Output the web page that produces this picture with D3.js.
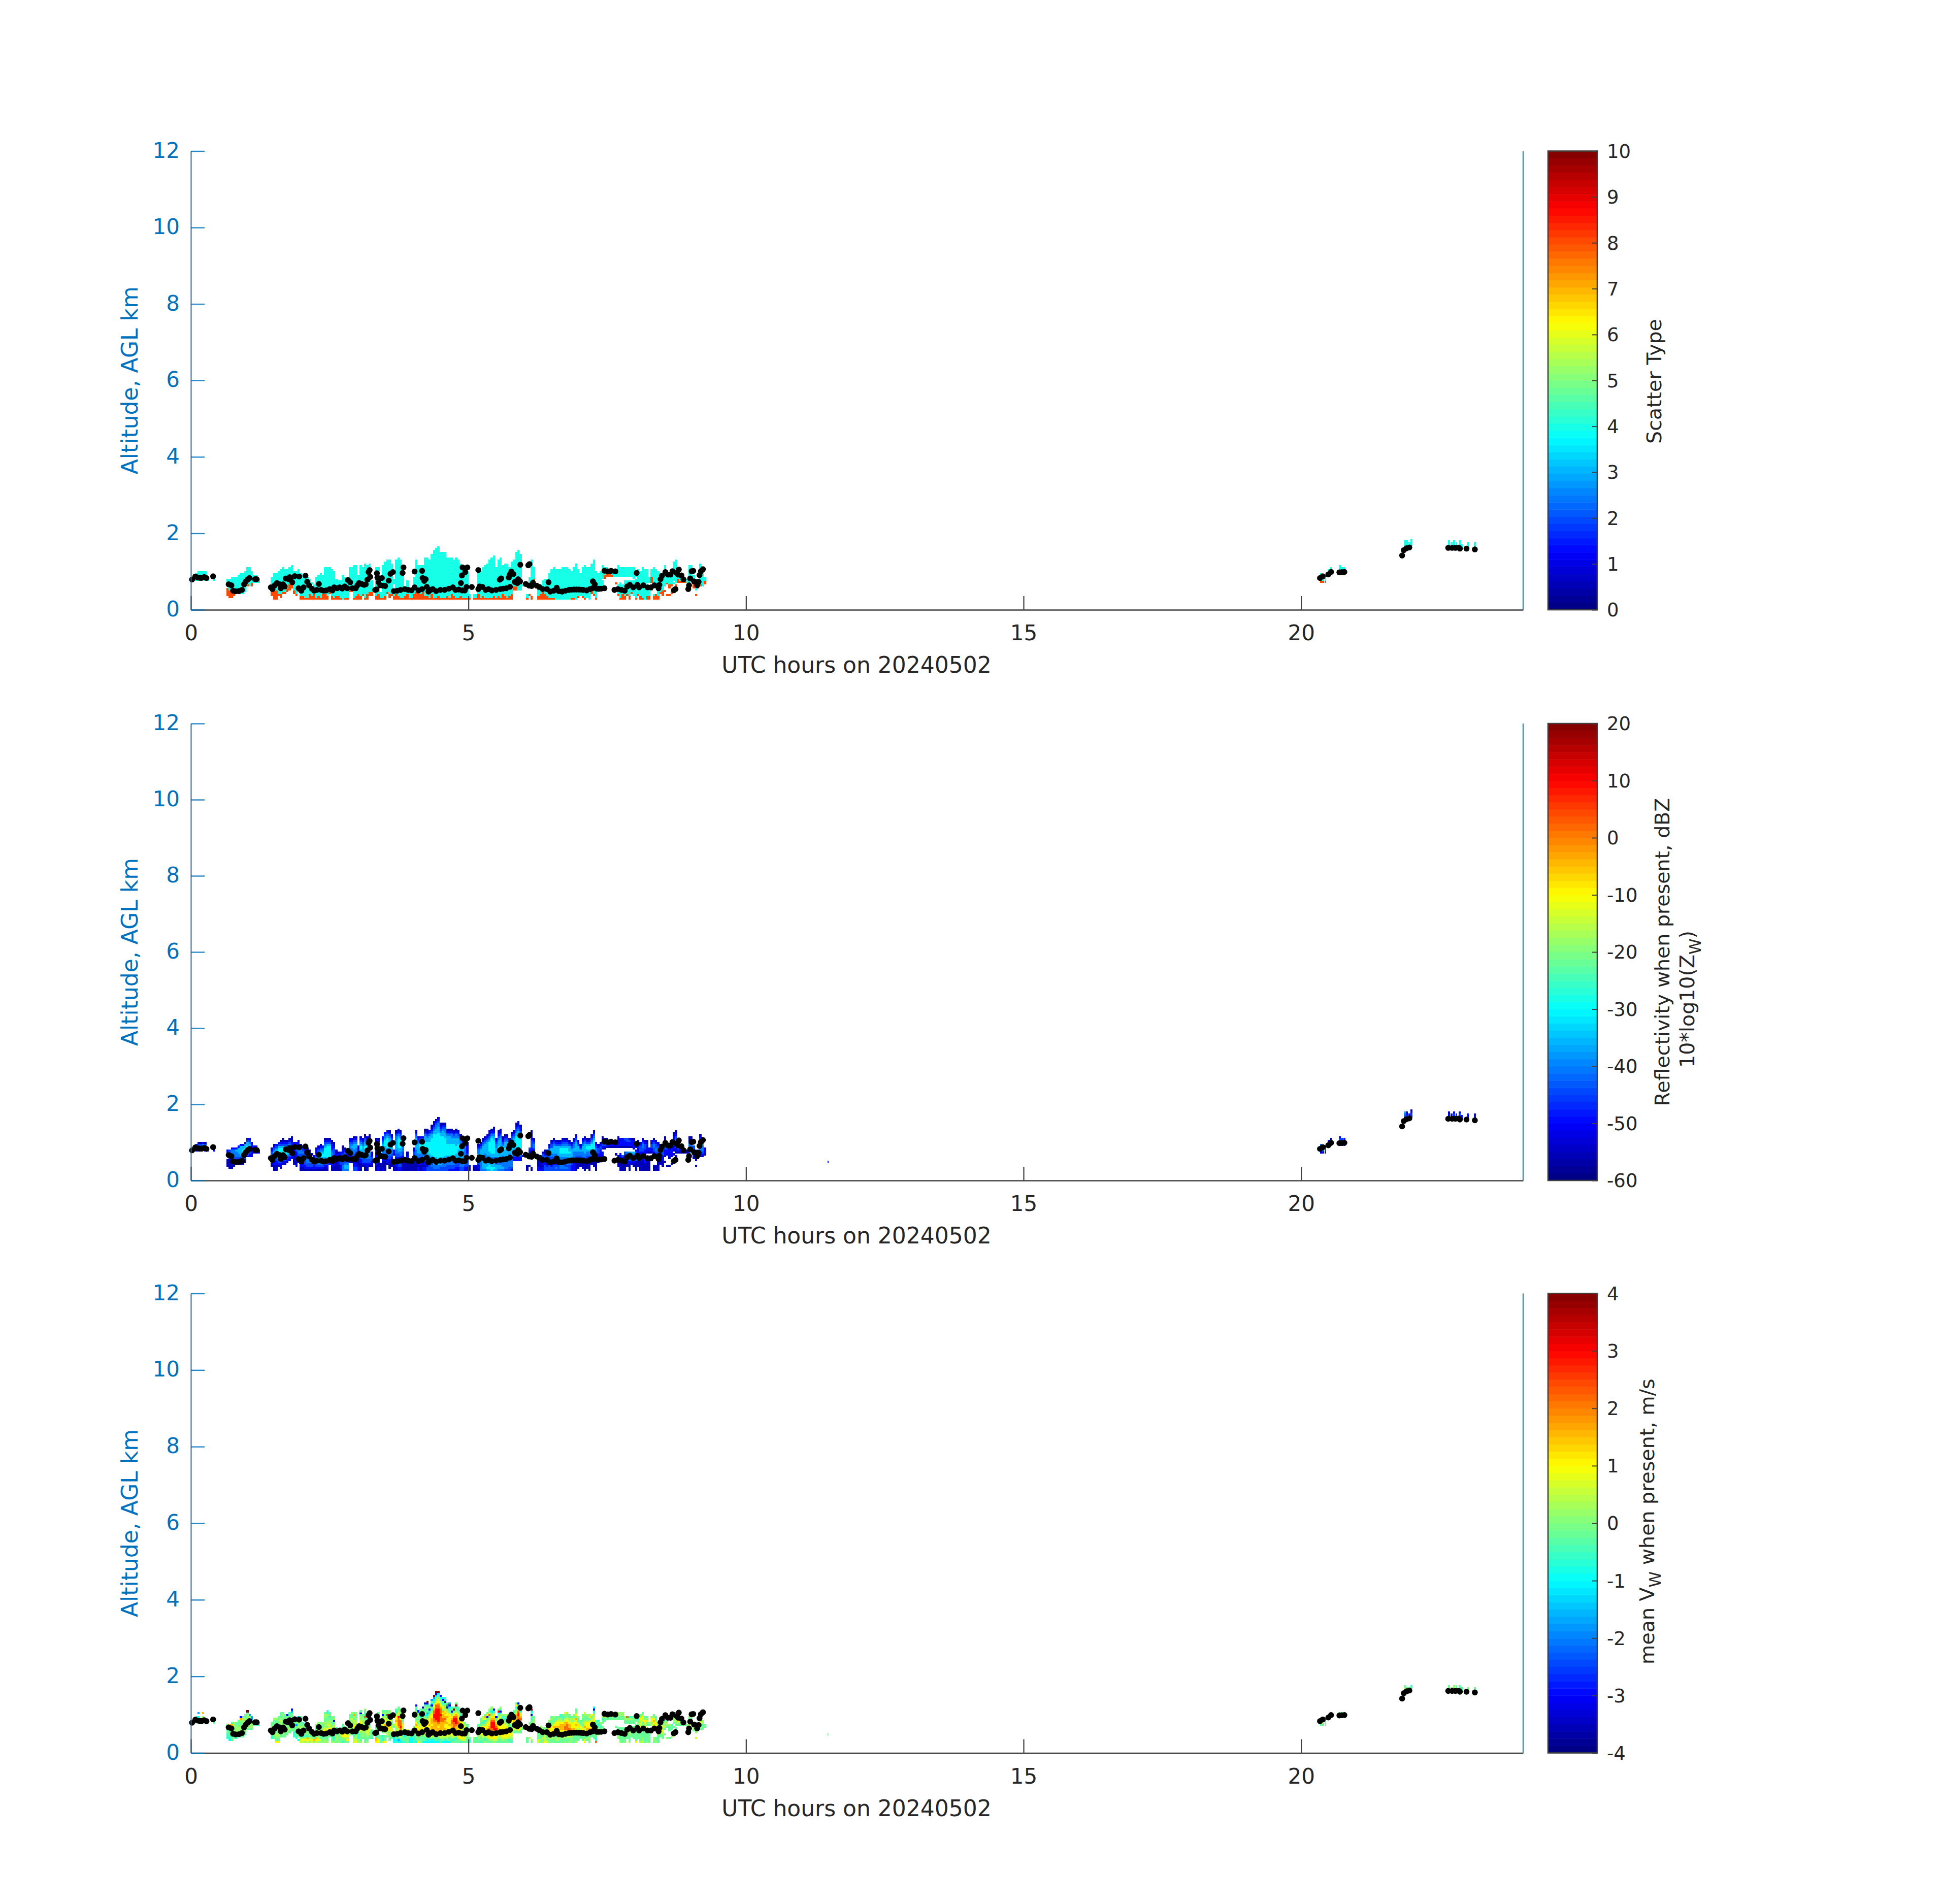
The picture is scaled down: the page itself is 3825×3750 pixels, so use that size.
<!DOCTYPE html>
<html><head><meta charset="utf-8">
<style>html,body{margin:0;padding:0;background:#fff}text{font-family:"DejaVu Sans",sans-serif}</style>
<script src="https://cdn.jsdelivr.net/npm/d3@7"></script></head><body>
<script>
// ---- data ----
const xTicks=[0,5,10,15,20];
const yTicks=[0,2,4,6,8,10,12];
const xLabel="UTC hours on 20240502";
const yLabel="Altitude, AGL km";
const scatterTicks=[0,1,2,3,4,5,6,7,8,9,10];
const dbzTicks=[-60,-50,-40,-30,-20,-10,0,10,20];
const velTicks=[-4,-3,-2,-1,0,1,2,3,4];
const gateFloorKm=0.265, gateKm=0.05, stepHours=0.04;
// one string per time column (0.04 h apart), written from the lowest gate upward; '.' = empty gate
const dbzLevels={1:-56,2:-50,3:-45,4:-41,5:-36,6:-31};
const velLevels={K:-3.9,b:-3,a:-1.7,c:-1,t:-0.6,g:-0.2,l:0.2,y:0.6,Y:1,o:1.6,O:2.2,r:2.9,m:3.9};
const scatterLevels={cloud:4.05,drizzle:8.05};
const dbzColumns=["","..........22","..........2332","..........23431","..........23431","...........2342","..........22331","..........22","","",
"..........22","","","","","","..1111..222",".1111122333",".11222334442","..1222344442",
"...122344452","...1223445552","...12234555552","...12234556552","....12334566552",".......2345665532",".......2234555432",".......22222222",".........2332",".........2332",
".........22","","","","","","..1122233321","11122334554321","11122344555432","..1233455666532",
".122344566665321","...12345666653211","...1234566665321","....123456665321",".....223455554321","......223444322111","...111111122222","..1112222233322","....223334443221","11222233344321",
"1122223334321","122334433222","123344333221","12334432221","1233432.1","12233212","123334433221","1234445554321","12344556654321","1234455665432",
"11234556666654321","12234566666665321","...23456666665321","1122233444322211","111222233333211","11111222211","1112212221","1223332222","4443322232211","455433223321",
"45543222211","....1122223444322","....1223344454321","332211233445554321","332211122344554321","2211112222211","111122344556654321","..123344555554321","1112334455666554321","112233445566654321",
"..12334455666543211","..12233211","","11122112223344321","22112112223344321","1111...12","211112233445554322","11111223344556665432","...122334455666665432",".11122334455666554321",
"..11112334455554321","111.....122","112211233445555544321","2233112334556666654321","223312234455666654321","111112223344443211","1111","1111122211","111111","111111",
"111111223321","111122334445555554321","221223344555554321","111223344556665432","221122344556665432","2212233445566665554321","3322334455666665543211","333234455666666555432","334344556666666665543211","34454556666666666665543211",
"344555566666666666655544321","3445556666666666666655544321","3345455666666666665543211","3344455666666666665554321","3344455566666666655544321","3334455566666655554321","2334455566666655554321","2334455666666655544321","233445566666665554321","2233445556666555544321",
"223344555556665554321","3344455555555544321","334444555455443211","2234444444444321","223333333222211","111","","112","111","12233445544321",
"444445555554321","45555544555554321","455555444555554321","5655544455555554321","566544445566666543211","6655444556666666654321","56554445566666665543211","55544445555544321","455444455566655543211","4554444556666555543211",
"454444445555543211","3444444555565554321","3444444555555554321","33444444455554321","23444444555554444321",".....2234455566554321",".....22345566666665543211",".....223455666666665543211",".....2234556666665543221",".......1",
"","111.....1","..1.....1223","11......1222333322211","........122344321","......1","22111222","21111223","2212223331","33322233211",
"33212233211","33321233445321","3322233445553321","33322334455554321","3432233445555321","3333334455555321","3443344556665321","34433445566654321","34333445566654321","34344445566654321",
"3334445556555321","222344455554321","22222344445544321","1111223344555554321",".11122334455 5321".replace(" ",""),"..11123344 5321".replace(" ",""),".1112334445554321","111123344555554321",".11112334456 65321".replace(" ",""),"1111123344 5665321".replace(" ",""),
"...1123344566654321","..1112334456666654321","11111 2233344321".replace(" ",""),"....1222233321",".....1222223321",".....11122.1233211","...........123321","............12321","............1221","............122",
"............121","........1...1221","..111111....122211","111112222...12222","11111223....12222","1111122233..12223","..11122334..12233","1112234445..12232","...1234445..12221","..11234445.122221",
"11111344432.122","..111344 42122321".replace(" ",""),"11111233 2233321".replace(" ",""),"11111132123344321","1111223212233321","1111122..1222211","111112...122",".....1...1223322","111.....123344321","111...1223443321",
"111111123344321","...11122334321","..111222333321","....1..12223332211","..1.....1223332","..1...122221","...1...12222",".....1..1.1223332211",".......1.122333343211",".........1233321",
".........12221",".........122",".........11",".....1...11",".......12334443211","..........23443321","......1223333","..1..122333","......12233",".......123445554321",
".......12344453","........1222"];
const velColumns=["","..........gg","...........glt","...........glc.a","..........gll","...........ggl.o","..........gg","..........g","","",
"..........g","","","","","","..tttggg.g",".cttggtggo",".ggggllggog","..gggllglll",
"..tggglllgg","...tgglllggg","...ggllllgglob","...gglllgllllg","....gglllglllgg",".......glllglllgm",".......glllglla",".......gllggaa",".........ggl",".........gll",
".........tg","","","","","","..ttgggglgg","..gglllglgggl","YggllglllgggL".replace("L","l"),"Ygglllyglgglgg",
"...ggllglllylggg","...glllgllglgglg","...gggllgglllgg","....glllglllggb",".....ggllglllggt","......ggllgglgggab","...tttgggggg","..ttgglggaglg",".c.gglgllglgla","yyltgggllggltg",
"yYltgglllgt","lYytgllgg","yYotgglggl","lyygllgl","yYlglga","logggg","yYogglyggl","lYyllyylggl","lygglYlgglg","lgggYyYlggl",
"llgglyYylllggllg","lggglyYYlyllggltt","...gllYYyyllgtgg","lgggllyYlgglgl","ltttggyYylgblg","glllggyg","lggggll","ggglyllg","tglYYlllgg","gglYYylgg",
"gYlYylgl","....llgllyyglgg","....glyllgllyggl","yylgtlgyYylyglog","Yyllllglylyllggl","lltttgllgl","lgggglyYylYyllgbg","..glllyYyglllgg","gggggllyYYylgOgtgl","lgglyYylYllgglg",
"..ggllyYlgyllOggl","..tggtg","","Yoottt.ggYYlygg","YYggg.glyYyloggg","gggg...g","lttt.glyYylyglblg","Yggg.lyYYolYylglg","...gylYoYYyllgrgg",".gggglyYYoyYlgbgl",
"..gggyYyllglgg","ccc.....gl","tcggglylyYYoYYlgtg","catggglyoOOOOryYlgg","ccgyyoOOrOOOYylglg","tggggylyYYlgg","tggc","gggglly","cccggl","cccgggg",
"ttttgggll","cgggllylYoYlglggltgb","YggllyYYYlglgglgb","lggglyYYyYlgltgglg","cgggllyYYoYoYlglggb","cgtlyYYYYYYylgclggltb","ccglyYYYYYYyltcaggltbm","ctglyYYYYoYYYyltcbgg","ccgyYYoooYoooYYyltgbcga","ctglyYYooooOOrrOOoYyltcam",
"cgglyYoooooOrrrrrrOOYylgcbm","ctglyYooYoOrrrrrrrOOoYylgcm","gtlyYYoooooOOOrOOOoYylgtb","cglyYYYooooOOooYolYltgbc","ctgyYYYoYYooOoYoYyglgbcg","cglyYYYYYYoYYoYYlgbag","cgtlyYYYYoYYYYYlgtcba","gtlyYYYYooOOoYlgbgt","gtgyYYYoOOOrrOYygmg","ggtlyYYooOrrrOoYlgtmg",
"ggyYYYYYooOoYYylgtg","tlYYyYyYYoYYlgtg","gyYyyYyllYYltg","gyYylyllYlg","gggllglggg","ttg","","ggl","ggt","gglllgylgg",
"tgglyYyylgglg","gglyYoYYYltgyl","ltglyYoYYlgtYog","gglyYoooYYylgbYg","glyYYoOOoYYylgOYgl","glYYoOOOrrrOoYlgcgl","lyYYoOOrrrrOoYYltb","gyYYoOOrOoYlgb","gglyYoOoYYoYYlgcrg","gglyYYoYYoYYlyltbgl",
"glyYYoYYYYylgtl","ggyYYoYYYylgcgl","ggyYYYyYyylgtgl","gtlyYYylgtl","tglyYyllglyYogg",".....glyYoYolgbgg",".....glyYYYYoooYlgtYg",".....gyYYYoOOOrrOYlgb",".....ggyYYYoOoYytg",".......g",
"","ggg.....g","..y.....glg","gl......gllgtgbtcm","........gllllg","......g","yyggglgl","glgggglgl","lgyglgll","Yyyyllgg",
"ylgglygllg","lgyglyyYlggl","ggllyYYYYlgglg","gglgyYYYoYlggl","gllgyYYYoYYlgg","gllyyYYYoYYylg","gggyyYYoooYylgt","ggllyyYoooYlgtg","lggyYooOOooYyglY","ggllyYoOOOoYylgl",
"lggyYoOOooYylgg","glgyYYooYYyllg","ggggylYoYYYlygl","lgggggyyYoYYolYlgg",".ggggyYyYYlggl","..ggggyyYlgg",".gggyYyYlglgglg","Yyggylyyoyylggly",".glggyYoYYYlggl","gllggyYoYYYygYl",
"...ggyYoYYYylgY","..gggyyoYYYYYylgtbc","Ottggyylgtgg","....lgglgtgt",".....gggtgl",".....gggg.ggtl","...........gglg","............gll","............ggl","............gl",
"............gt","........g...gg","..llgggg....ggll","lggggggg....ggll","gggggggg....ggll","lggggggg..ggll","..gggglg..gglO","lgggllyg..gglt","...gglly..gglt","..gggllyg.gggl",
"Yggggglyyg.gg","..gggyYYyglgt","lggggglyYyyyYlg","yllggg.yllgyyYlg","ggggggllylyYlg","lggggyl..ggylg","gggggl...gl",".....l...ylYYl","gll.....lyYoYlg","lgg...lyYYYlgg",
"gggglglyYlg","...gglyYYlg","..gglyYyyll","....g..gyllgtg","..l.....gllgt","..g...gggl","...l...ggt",".....g..g.gllgtg",".......g.gllglgO",".........glYllg",
".........glg",".........gg",".........g",".....b...g",".......glyYygl","..........glggl","......gllgl","..y..lgll","......ggl",".......glyYlgg",
".......gggll","........gg"];
// number of gates from the bottom of each column typed as drizzle (orange) in the scatter panel
const drizzleCells=[0,0,0,0,0,0,0,0,0,0,0,0,0,0,0,0,4,4,3,3,1,1,0,0,0,1,0,2,0,0,0,0,0,0,0,0,3,5,5,1,2,1,1,2,3,3,2,1,1,2,2,1,1,3,2,3,1,2,1,3,3,2,1,2,1,2,2,1,0,1,1,1,1,1,2,3,2,1,1,3,
2,2,0,2,3,1,1,2,1,2,1,2,3,2,1,1,2,3,1,1,3,4,5,3,4,2,2,1,3,1,1,2,1,1,1,2,1,3,2,1,1,2,1,1,1,1,0,1,1,3,1,2,1,1,1,1,2,1,2,1,3,2,1,2,3,2,2,0,0,0,
0,1,2,3,3,1,2,3,4,3,2,1,1,1,0,0,0,0,0,0,0,1,1,0,1,0,1,1,0,0,2,1,1,0,0,1,2,2,2,1,0,1,1,1,3,2,1,2,1,0,1,1,2,1,0,2,2,4,2,3,2,1,3,1,2,3,2,1,1,2,
1,2,1,1,1,1,3,1,1,1,0,2];
const eastHours=[11.47,20.34,20.38,20.42,20.48,20.52,20.68,20.72,20.76,21.85,21.89,21.93,21.97,22.65,22.69,22.74,22.78,22.84,22.88,22.99,23.11];
const eastBase=[4,9,9,9,12,13,13,13,13,26,26,27,28,27,27,27,27,27,27,27,27];
const eastDbz=["2","12334","2343","2332","2322","2321","22332","2343","2332","12345","23321","232","2321","2221","112","1232","232","1232","12","122","122"];
const eastVel=["g","gll","glg","ggt","gl","lg","gll","glg","gtg","glyg","ggg","gl","gt","ggg","gl","ggl","gtg","glg","gt","gl","gg"];
const eastDrizzle=[-1,2,1,1,0,0,1,1,1,2,0,0,0,0,0,0,0,0,0,0,0];
// ceilometer cloud-base points [hour, km]
const baseHours=[.02,.08,.12,.16,.195,.24,.28,.40,.68,.73,.76,.805,.866,.92,.957,.988,1.024,1.055,1.155,1.185,1.44,1.47,1.51,1.55,1.60,1.62,1.66,1.69,1.71,1.756,1.78,1.796,1.826,1.87,1.95,1.94,1.99,2.03,2.064,2.095,2.13,2.18,2.22,2.27,2.305,2.345,2.39,2.436,2.50,2.55,2.58,2.634,2.68,2.726,2.77,2.817,2.83,2.87,2.91,2.97,3.0,3.03,3.076,3.12,3.15,3.18,3.23,3.20,3.22,3.35,3.36,3.38,3.41,3.32,3.34,3.44,3.457,3.50,3.564,3.595,3.64,3.83,3.814,3.655,3.716,3.777,3.854,3.915,3.976,4.03,4.03,4.10,4.165,4.165,4.174,4.204,4.23,4.25,4.28,4.32,4.357,4.418,4.494,4.57,4.646,4.72,4.766,4.827,4.888,4.934,4.965,5.06,4.864,4.882,4.943,4.894,4.98,5.178,5.178,5.20,5.254,5.31,5.36,5.42,5.498,5.574,5.62,5.68,5.748,5.565,5.59,5.727,5.742,5.773,5.81,5.834,5.88,5.895,5.93,5.934,6.078,6.10,6.032,6.093,6.138,6.163,6.23,6.276,6.337,6.413,6.474,6.535,6.59,6.626,6.687,6.748,6.81,6.855,6.90,6.945,6.99,7.03,7.068,7.13,7.19,7.236,7.242,7.276,7.312,7.35,7.39,7.45,6.443,7.45,7.51,7.57,7.647,8.03,7.63,7.693,7.755,7.815,7.86,7.907,7.968,8.044,8.074,8.15,8.227,8.288,8.35,8.425,8.44,8.46,8.486,8.547,8.593,8.64,8.675,8.75,8.79,8.776,8.837,8.873,8.73,8.70,8.974,8.96,8.995,9.02,9.05,9.065,9.11,9.12,9.147,9.163,9.187,9.224,20.34,20.39,20.49,20.54,20.69,20.735,20.78,21.82,21.85,21.90,21.95,22.65,22.72,22.78,22.84,22.86,22.98,23.13];
const baseKm=[.79,.87,.845,.835,.835,.855,.83,.875,.667,.64,.50,.484,.49,.52,.667,.738,.795,.83,.80,.80,.587,.542,.64,.70,.667,.564,.667,.61,.818,.80,.853,.787,.72,.88,.87,.564,.498,.587,.893,.733,.64,.55,.498,.52,.676,.52,.498,.507,.542,.507,.587,.564,.587,.556,.61,.564,.778,.72,.564,.564,.64,.70,.676,.653,.667,.787,.862,.987,1.04,.956,.844,.72,.64,.52,.53,.831,.631,.622,.764,.942,.987,1.11,.964,.489,.498,.52,.542,.52,.511,.587,1.0,.507,.542,1.018,.831,.756,.80,.60,.476,.52,.542,.489,.52,.52,.551,.587,.52,.529,.507,.507,.596,.596,.70,.898,.987,1.107,1.107,1.04,.542,.609,.596,.52,.542,.507,.52,.542,.551,.564,.60,.787,.818,.844,.92,1.0,.933,.729,.698,.80,.742,1.178,1.164,1.196,.676,.631,.622,.707,.631,.596,.542,.542,.476,.498,.578,.489,.476,.498,.52,.525,.529,.53,.529,.525,.52,.507,.542,.564,.742,.667,.551,.55,.551,.564,.72,1.022,1.004,1.018,1.004,.964,.52,.542,.52,.498,.609,.653,.587,.653,.587,.64,.587,.587,.64,.564,.653,.80,.889,.987,.92,.92,1.009,.964,1.053,.92,.898,.796,.542,.511,.64,.542,.818,1.009,1.018,.742,.72,.64,.729,.907,1.009,1.062,.83,.876,.925,.99,.98,.985,.99,1.42,1.56,1.61,1.63,1.62,1.62,1.62,1.625,1.6,1.6,1.58];

// ---- layout ----
const W=3825,H=3750;
const left=376,right=3000,cbL=3049,cbR=3146;
const panels=[
 {top:297.5,bottom:1201,dom:[0,10],ticks:scatterTicks,kind:"scatter"},
 {top:1425,bottom:2325,dom:[-60,20],ticks:dbzTicks,kind:"dbz"},
 {top:2547.5,bottom:3452.5,dom:[-4,4],ticks:velTicks,kind:"vel"}];
const blue="#0072BD",dark="#262626",axisDark="#404040";
const svg=d3.select("body").append("svg").attr("width",W).attr("height",H).style("display","block");
const clamp=v=>Math.max(0,Math.min(1,v));
const jet=d3.range(64).map(i=>{const x=(i+1)/64-1/128;
  return d3.rgb(255*clamp(Math.min(4*x-1.5,-4*x+4.5)),255*clamp(Math.min(4*x-.5,-4*x+3.5)),255*clamp(Math.min(4*x+.5,-4*x+2.5))).formatHex();});
const columnHours=d3.range(dbzColumns.length).map(i=>i*stepHours);
const x=d3.scaleLinear().domain([0,24]).range([left,right]);
const plainInt=v=>String(v);

panels.forEach(p=>{
  const g=svg.append("g");
  const y=d3.scaleLinear().domain([0,12]).range([p.bottom,p.top]);
  const color=d3.scaleQuantize().domain(p.dom).range(jet);
  const cell=(hour,width,gate,value)=>g.append("rect")
     .attr("x",x(hour)).attr("width",Math.max(x(hour+width)-x(hour),1.6))
     .attr("y",y(gateFloorKm+(gate+1)*gateKm)).attr("height",y(gateFloorKm)-y(gateFloorKm+gateKm)+.4)
     .attr("fill",color(value)).attr("shape-rendering","crispEdges");
  const drawCol=(hour,width,str,drz,base)=>{
    let seen=0;
    [...str].forEach((ch,i)=>{
      if(ch===".")return;
      if(p.kind==="dbz")cell(hour,width,base+i,dbzLevels[ch]);
      else if(p.kind==="vel")cell(hour,width,base+i,velLevels[ch]);
      else if(drz>=0){cell(hour,width,base+i,seen<drz?scatterLevels.drizzle:scatterLevels.cloud);}
      seen++;
    });
  };
  const source=p.kind==="vel"?velColumns:dbzColumns;
  const east=p.kind==="vel"?eastVel:eastDbz;
  columnHours.forEach((h,i)=>drawCol(h,stepHours,source[i]||"",drizzleCells[i]||0,0));
  eastHours.forEach((h,i)=>drawCol(h,i===0?0.01:0.035,east[i],eastDrizzle[i],eastBase[i]));

  // black cloud-base dots
  g.selectAll("circle.base").data(baseHours).join("circle").attr("class","base")
    .attr("cx",d=>x(d)).attr("cy",(d,i)=>y(baseKm[i])).attr("r",5.8).attr("fill","#000");

  // x axis
  const ax=g.append("g").attr("transform",`translate(0,${p.bottom})`)
    .call(d3.axisBottom(x).tickValues(xTicks).tickFormat(plainInt).tickSizeInner(-27).tickSizeOuter(0).tickPadding(0));
  ax.select(".domain").attr("stroke",axisDark).attr("stroke-width",2.4);
  ax.selectAll(".tick line").attr("stroke",axisDark).attr("stroke-width",2.2);
  ax.selectAll(".tick text").attr("y",60).attr("dy",0).attr("fill",dark).attr("font-size",42).attr("font-family","DejaVu Sans");
  // y axis (left) and right edge
  const ay=g.append("g").attr("transform",`translate(${left},0)`)
    .call(d3.axisLeft(y).tickValues(yTicks).tickFormat(plainInt).tickSizeInner(-27).tickSizeOuter(0).tickPadding(0));
  ay.select(".domain").attr("stroke",blue).attr("stroke-width",2.4).attr("stroke-opacity",.8);
  ay.selectAll(".tick line").attr("stroke",blue).attr("stroke-width",2.4).attr("stroke-opacity",.85);
  ay.selectAll(".tick text").attr("x",-22).attr("dy",".3em").attr("fill",blue).attr("font-size",42).attr("font-family","DejaVu Sans");
  g.append("line").attr("x1",right).attr("x2",right).attr("y1",p.top).attr("y2",p.bottom)
    .attr("stroke",blue).attr("stroke-width",2.4).attr("stroke-opacity",.8);
  g.append("text").attr("x",(left+right)/2+ -1).attr("y",p.bottom+124).attr("text-anchor","middle")
    .attr("font-size",44).attr("fill",dark).text(xLabel);
  g.append("text").attr("transform",`translate(271,${(p.top+p.bottom)/2}) rotate(-90)`).attr("text-anchor","middle")
    .attr("font-size",44).attr("fill",blue).text(yLabel);

  // colour bar
  const cy=d3.scaleLinear().domain(p.dom).range([p.bottom,p.top]);
  const bandH=(p.bottom-p.top)/64;
  g.selectAll("rect.band").data(jet).join("rect").attr("class","band")
    .attr("x",cbL).attr("width",cbR-cbL).attr("y",(d,i)=>p.bottom-(i+1)*bandH).attr("height",bandH+.5).attr("fill",d=>d);
  const cax=g.append("g").attr("transform",`translate(${cbR},0)`)
    .call(d3.axisRight(cy).tickValues(p.ticks).tickFormat(plainInt).tickSizeInner(0).tickSizeOuter(0).tickPadding(0));
  cax.select(".domain").remove();
  cax.selectAll(".tick line").attr("x1",-10).attr("x2",0).attr("stroke",axisDark).attr("stroke-width",2);
  cax.selectAll(".tick text").attr("x",19).attr("dy",".35em").attr("fill",dark).attr("font-size",37).attr("font-family","DejaVu Sans");
  g.append("rect").attr("x",cbL).attr("y",p.top).attr("width",cbR-cbL).attr("height",p.bottom-p.top)
    .attr("fill","none").attr("stroke",axisDark).attr("stroke-width",2.6);
});

// colour-bar titles
const cbTitle=(xp,yp,anchor,parts)=>{
  const t=svg.append("text").attr("transform",`translate(${xp},${yp}) rotate(-90)`).attr("text-anchor",anchor)
    .attr("font-size",39.5).attr("fill",dark);
  parts.forEach(([s,sub],i)=>{const sp=t.append("tspan").text(s);
    if(sub)sp.attr("font-size",32).attr("dy",13);else if(i>0)sp.attr("dy",-13);});
};
cbTitle(3272,751,"middle",[["Scatter Type"]]);
cbTitle(3288,1875,"middle",[["Reflectivity when present, dBZ"]]);
cbTitle(3337,2103,"start",[["10*log10(Z"],["W",true],[")"]]);
cbTitle(3258,3278,"start",[["mean V"],["W",true],[" when present, m/s"]]);
</script></body></html>
